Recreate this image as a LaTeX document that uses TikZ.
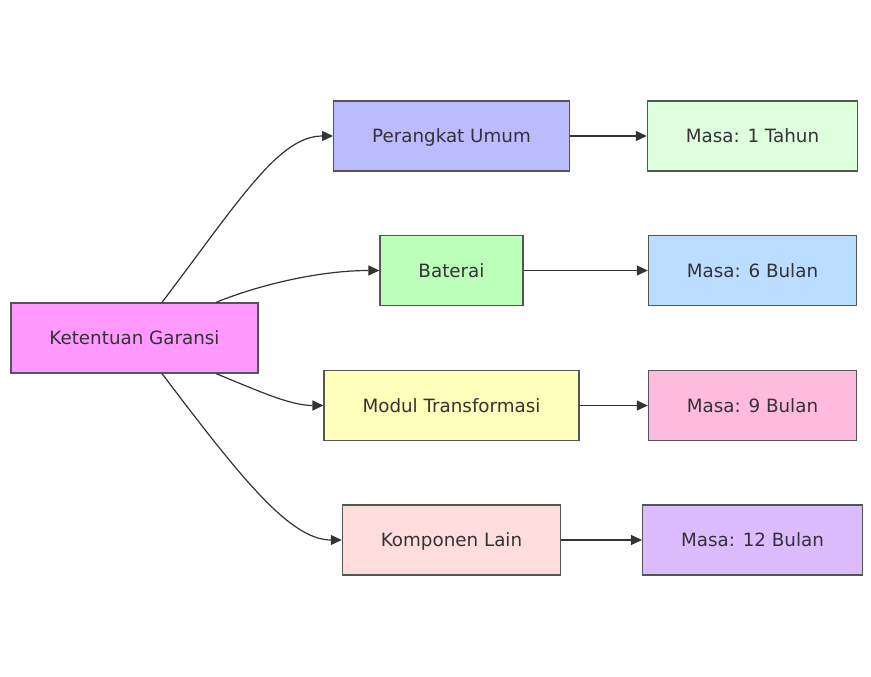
\documentclass[tikz,border=0pt]{standalone}
\usepackage{fontspec}
\setmainfont{DejaVu Sans}
\usetikzlibrary{arrows.meta}
\tikzset{>={Triangle[length=11pt,width=10pt]}}
\definecolor{txt}{HTML}{333333}
\definecolor{edge}{HTML}{333333}
\definecolor{rim}{HTML}{555555}
\definecolor{cRoot}{HTML}{FF99FF}
\definecolor{cPer}{HTML}{BBBBFF}
\definecolor{cBat}{HTML}{BBFFBB}
\definecolor{cMod}{HTML}{FFFFBB}
\definecolor{cKom}{HTML}{FFDDDD}
\definecolor{cOne}{HTML}{DDFFDD}
\definecolor{cSix}{HTML}{BBDDFF}
\definecolor{cNine}{HTML}{FFBBDD}
\definecolor{cTwelve}{HTML}{DDBBFF}
\tikzset{
    box/.style={draw=rim, line width=1.2pt, minimum height=70pt, inner xsep=38.5pt,
                text height=15pt, text depth=2pt,
                text=txt, font=\fontsize{18.3}{22}\selectfont},
    link/.style={->, draw=edge, line width=1.2pt}
}

\begin{document}
\begin{tikzpicture}[x=1pt, y=-1pt]
    \useasboundingbox (0,0) rectangle (871,677);
    % root
    \node[box, fill=cRoot] (ket) at (134.5,338) {Ketentuan Garansi};
    % categories
    \node[box, fill=cPer] (per) at (451.5,136) {Perangkat Umum};
    \node[box, fill=cBat] (bat) at (451.5,270.5) {Baterai};
    \node[box, fill=cMod] (mod) at (451.5,405.5) {Modul Transformasi};
    \node[box, fill=cKom] (kom) at (451.5,540) {Komponen Lain};
    % periods
    \node[box, fill=cOne] (m1) at (752.5,136) {Masa: 1 Tahun};
    \node[box, fill=cSix] (m6) at (752.5,270.5) {Masa: 6 Bulan};
    \node[box, fill=cNine] (m9) at (752.5,405.5) {Masa: 9 Bulan};
    \node[box, fill=cTwelve] (m12) at (752.5,540) {Masa: 12 Bulan};

    \draw[link] ([xshift=27.5pt]ket.north) .. controls +(78,-103) and +(-54,0) .. (per.west);
    \draw[link] ([xshift=81.5pt]ket.north) .. controls +(44,-18) and +(-59,0) .. (bat.west);
    \draw[link] ([xshift=81.5pt]ket.south) .. controls +(44,18) and +(-33,0) .. (mod.west);
    \draw[link] ([xshift=27.5pt]ket.south) .. controls +(78,103) and +(-52,0) .. (kom.west);

    \draw[link] (per) -- (m1);
    \draw[link] (bat) -- (m6);
    \draw[link] (mod) -- (m9);
    \draw[link] (kom) -- (m12);
\end{tikzpicture}
\end{document}
